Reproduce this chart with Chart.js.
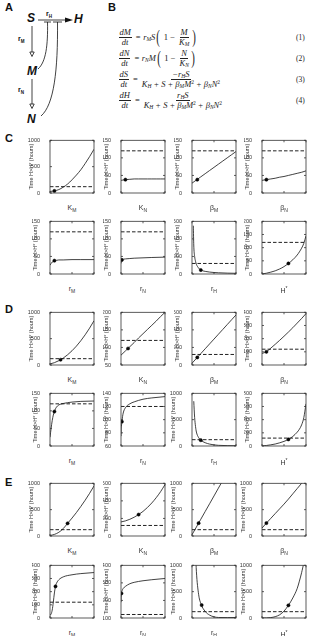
<!DOCTYPE html>
<html lang="en">
  <head>
    <meta charset="UTF-8" />
    <title>Model sensitivity</title>
    <style>
      * { margin: 0; padding: 0; box-sizing: border-box; }
      body { width: 315px; height: 636px; background: #fff; position: relative; overflow: hidden;
        font-family: "Liberation Sans", Arial, sans-serif; color: #222; }
      .pl { position: absolute; font-weight: bold; font-size: 11px; color: #111; }
      canvas { position: absolute; }
      .xl { position: absolute; width: 44px; text-align: center; font-size: 7px; line-height: 9px; color: #333; }
      .xl sub, .xl sup { font-size: 5px; }
      .eq { position: absolute; left: 117px; height: 20px; display: flex; align-items: center; color: #222;
        font-family: "Liberation Serif", "DejaVu Serif", serif; font-size: 8.5px; font-style: italic; white-space: nowrap; }
      .eq sub, .eq sup { font-size: 5.5px; vertical-align: baseline; position: relative; line-height: 0; }
      .eq sub { top: 1.5px; }
      .eq sup { top: -3px; font-style: normal; }
      .frac { display: inline-flex; flex-direction: column; align-items: center; margin: 0 1.5px; line-height: 9px; }
      .frac > span:first-child { border-bottom: 0.6px solid #222; padding: 0 1px; }
      .up { font-style: normal; margin: 0 2.5px; }
      .bp { font-style: normal; font-size: 18px; line-height: 1; display: inline-block; transform: scaleX(0.6); }
      .num { position: absolute; left: 296px; font-family: "Liberation Serif", serif; font-size: 7.5px; color: #222; }
    </style>
  </head>
  <body>
    <div class="pl" style="left:5px;top:1px">A</div>
    <svg style="position:absolute;left:0;top:0" width="110" height="130">
      <g font-family="Liberation Sans, Arial" font-weight="bold" font-style="italic" font-size="12" fill="#111">
        <text x="27" y="22">S</text>
        <text x="74" y="23">H</text>
        <text x="27" y="75">M</text>
        <text x="27" y="123">N</text>
      </g>
      <g font-family="Liberation Sans, Arial" font-weight="bold" font-size="7" fill="#111">
        <text x="46" y="16">r<tspan font-size="4.5" dy="1.5">H</tspan></text>
        <text x="18" y="41">r<tspan font-size="4.5" dy="1.5">M</tspan></text>
        <text x="18" y="92">r<tspan font-size="4.5" dy="1.5">N</tspan></text>
      </g>
      <g stroke="#111" stroke-width="0.8" fill="none">
        <line x1="38" y1="20" x2="68" y2="20" />
        <line x1="44" y1="22" x2="51" y2="22" />
        <line x1="53" y1="22" x2="62" y2="22" />
        <path d="M38,69 C46,62 48,45 47.5,22" />
        <path d="M41,116 C54,105 58,70 57.5,22" />
        <line x1="32" y1="26" x2="32" y2="52" />
        <polygon points="29.8,52 34.2,52 32,56.5" />
        <line x1="32" y1="79" x2="32" y2="104" />
        <polygon points="29.8,104 34.2,104 32,108.5" />
      </g>
      <polygon points="65,17.5 73,20 65,22.5" fill="#111" />
    </svg>

    <div class="pl" style="left:108px;top:1px">B</div>
    <div class="eq" style="top:27px"><span class="frac"><span>dM</span><span>dt</span></span><span class="up">=</span>r<sub>M</sub>S<span class="bp">(</span><span class="up">1 −</span><span class="frac"><span>M</span><span>K<sub>M</sub></span></span><span class="bp">)</span></div>
    <div class="num" style="top:33px">(1)</div>
    <div class="eq" style="top:48px"><span class="frac"><span>dN</span><span>dt</span></span><span class="up">=</span>r<sub>N</sub>M<span class="bp">(</span><span class="up">1 −</span><span class="frac"><span>N</span><span>K<sub>N</sub></span></span><span class="bp">)</span></div>
    <div class="num" style="top:54px">(2)</div>
    <div class="eq" style="top:69px"><span class="frac"><span>dS</span><span>dt</span></span><span class="up">=</span><span class="frac"><span>−r<sub>H</sub>S</span><span>K<sub>H</sub><span class="up">+</span>S<span class="up">+</span>β<sub>M</sub>M<sup>2</sup><span class="up">+</span>β<sub>N</sub>N<sup>2</sup></span></span></div>
    <div class="num" style="top:75px">(3)</div>
    <div class="eq" style="top:90px"><span class="frac"><span>dH</span><span>dt</span></span><span class="up">=</span><span class="frac"><span>r<sub>H</sub>S</span><span>K<sub>H</sub><span class="up">+</span>S<span class="up">+</span>β<sub>M</sub>M<sup>2</sup><span class="up">+</span>β<sub>N</sub>N<sup>2</sup></span></span></div>
    <div class="num" style="top:96px">(4)</div>

    <div class="pl" style="left:5px;top:132px">C</div>
    <div class="pl" style="left:5px;top:303px">D</div>
    <div class="pl" style="left:5px;top:476px">E</div>

    <script src="https://cdn.jsdelivr.net/npm/chart.js"></script>
    <script>
      // x grids of the parameter sweeps
      const K_X = [0, 5, 10, 15, 20, 25, 30, 35, 40, 45, 50];
      const BETA_X = [0, 1, 2, 3, 4, 5, 6, 7, 8, 9, 10];
      const RM_X = [0, 0.0025, 0.005, 0.0075, 0.01, 0.0125, 0.015, 0.02, 0.03, 0.05, 0.07, 0.1];
      const RN_X = [0, 0.005, 0.01, 0.02, 0.05, 0.1, 0.2, 0.3, 0.5, 0.7, 1];
      const RH_X = [0.3, 0.4, 0.6, 0.8, 1, 1.5, 2, 3, 4, 5, 6, 8, 10];
      const HS_X = [0, 10, 20, 30, 40, 50, 60, 70, 80, 85, 90, 95, 100];

      const THRESHOLD = 120;

      // panel C
      const C_KM = [30, 40, 65, 110, 170, 250, 340, 440, 560, 690, 830];
      const C_KN = [36, 38, 39, 40, 40, 40, 40, 40, 40, 40, 40];
      const C_BM = [28, 37, 46, 55, 64, 73, 82, 91, 100, 109, 118];
      const C_BN = [36, 38, 40, 42, 45, 47, 50, 53, 56, 59, 63];
      const C_RM = [25, 30, 34, 36, 38, 38, 39, 40, 40, 41, 41, 41];
      const C_RN = [30, 34, 36, 40, 42, 43, 44, 45, 46, 47, 48];
      const C_RH = [550, 330, 200, 145, 110, 68, 45, 30, 22, 17, 14, 10, 8];
      const C_HS = [0, 3, 7, 12, 19, 28, 40, 54, 72, 84, 98, 116, 145];
      const C_MARK = [[5, 40], [5, 38], [1.2, 38], [1, 38], [0.01, 38], [0.02, 40], [2, 45], [60, 40]];

      // panel D
      const D_KM = [20, 44, 82, 131, 194, 270, 358, 460, 574, 700, 840];
      const D_KN = [78, 90, 102, 114, 127, 139, 151, 163, 175, 188, 200];
      const D_BM = [20, 75, 130, 185, 240, 295, 350, 405, 460, 515, 570];
      const D_BN = [88, 100, 128, 157, 187, 218, 250, 283, 318, 353, 390];
      const D_RM = [25, 50, 72, 88, 98, 106, 111, 117, 121, 125, 127, 128];
      const D_RN = [75, 85, 90, 97, 110, 118, 124, 127, 131, 133, 135];
      const D_RH = [null, 850, 540, 370, 265, 160, 110, 62, 36, 21, 13, 7, 5];
      const D_HS = [0, 8, 18, 30, 48, 70, 100, 145, 210, 255, 320, 430, 640];
      const D_MARK = [[12, 100], [8, 97], [1.2, 86], [1, 100], [0.01, 98], [0.02, 97], [2, 110], [60, 100]];

      // panel E
      const E_KM = [10, 30, 70, 140, 240, 340, 445, 560, 680, 810, 950];
      const E_KN = [160, 172, 190, 214, 244, 280, 324, 376, 436, 505, 585];
      const E_BM = [25, 170, 318, 465, 612, 760, 908, 1055, 1200, 1350, 1500];
      const E_BN = [150, 245, 335, 425, 515, 605, 700, 800, 900, 1000, 1100];
      const E_RM = [20, 30, 60, 120, 190, 240, 265, 290, 312, 328, 337, 345];
      const E_RN = [190, 225, 240, 252, 268, 280, 295, 303, 312, 318, 325];
      const E_RH = [null, null, null, 1250, 880, 450, 275, 125, 55, 22, 10, 8, 10];
      const E_HS = [0, 2, 8, 25, 60, 130, 240, 380, 560, 700, 860, 1050, 1300];
      const E_MARK = [[20, 240], [20, 244], [1.5, 244], [1, 245], [0.0125, 240], [0.01, 240], [2.2, 245], [60, 240]];

      // tick labels
      const YT_150 = [0, 50, 100, 150];
      const YT_200 = [0, 50, 100, 150, 200];
      const YT_400 = [0, 100, 200, 300, 400];
      const YT_600 = [0, 200, 400, 600];
      const YT_800 = [0, 200, 400, 600, 800];
      const YT_1000 = [0, 500, 1000];
      const YT_D2 = [50, 100, 150, 200];
      const YT_D6 = [60, 80, 100, 120, 140];
      const YT_E6 = [100, 200, 300, 400];

      const PARAMS = [
        { x: K_X, xt: [0, 50], lab: "K<sub>M</sub>" },
        { x: K_X, xt: [0, 50], lab: "K<sub>N</sub>" },
        { x: BETA_X, xt: [0, 5, 10], lab: "β<sub>M</sub>" },
        { x: BETA_X, xt: [0, 5, 10], lab: "β<sub>N</sub>" },
        { x: RM_X, xt: [0, 0.05, 0.1], lab: "r<sub>M</sub>" },
        { x: RN_X, xt: [0, 0.5, 1], lab: "r<sub>N</sub>" },
        { x: RH_X, xt: [0, 5, 10], lab: "r<sub>H</sub>" },
        { x: HS_X, xt: [0, 50, 100], lab: "H<sup>*</sup>" },
      ];

      const GROUPS = [
        { rows: [140, 221], ys: [C_KM, C_KN, C_BM, C_BN, C_RM, C_RN, C_RH, C_HS], mark: C_MARK,
          yt: [YT_1000, YT_150, YT_150, YT_150, YT_150, YT_150, YT_600, YT_200] },
        { rows: [312, 393], ys: [D_KM, D_KN, D_BM, D_BN, D_RM, D_RN, D_RH, D_HS], mark: D_MARK,
          yt: [YT_1000, YT_D2, YT_600, YT_400, YT_150, YT_D6, YT_1000, YT_800] },
        { rows: [483, 565], ys: [E_KM, E_KN, E_BM, E_BN, E_RM, E_RN, E_RH, E_HS], mark: E_MARK,
          yt: [YT_1000, YT_600, YT_1000, YT_1000, YT_400, YT_E6, YT_1000, YT_1000] },
      ];

      const COLS = [50, 121, 192, 262];
      const BW = 44, BH = 53;
      const TICK_FONT = { family: "Liberation Sans, Arial", size: 5.5 };

      // box around the plot area plus small inward ticks
      const frame = {
        id: "frame",
        afterDraw(chart) {
          const { ctx, chartArea: a, scales } = chart;
          ctx.save();
          ctx.strokeStyle = "#333";
          ctx.lineWidth = 0.8;
          ctx.strokeRect(a.left, a.top, a.right - a.left, a.bottom - a.top);
          ctx.beginPath();
          scales.x.ticks.forEach((t) => {
            const p = scales.x.getPixelForValue(t.value);
            ctx.moveTo(p, a.bottom); ctx.lineTo(p, a.bottom - 2);
            ctx.moveTo(p, a.top); ctx.lineTo(p, a.top + 2);
          });
          scales.y.ticks.forEach((t) => {
            const p = scales.y.getPixelForValue(t.value);
            ctx.moveTo(a.left, p); ctx.lineTo(a.left + 2, p);
            ctx.moveTo(a.right, p); ctx.lineTo(a.right - 2, p);
          });
          ctx.stroke();
          ctx.restore();
        },
      };

      function makePlot(L, T, par, ys, mark, yt) {
        const yw = String(yt[yt.length - 1]).length >= 4 ? 22 : 18;
        const c = document.createElement("canvas");
        c.width = 92; c.height = 68;
        c.style.left = L - 40 + "px";
        c.style.top = T - 5 + "px";
        document.body.appendChild(c);

        const lab = document.createElement("div");
        lab.className = "xl";
        lab.style.left = L + "px";
        lab.style.top = T + BH + 10 + "px";
        lab.innerHTML = par.lab;
        document.body.appendChild(lab);

        const xt = par.xt;
        const curve = par.x.map((x, i) => ({ x: x, y: ys[i] }));
        new Chart(c, {
          type: "line",
          data: {
            datasets: [
              { data: curve, borderColor: "#111", borderWidth: 0.8, pointRadius: 0, cubicInterpolationMode: "monotone" },
              { data: [{ x: xt[0], y: THRESHOLD }, { x: xt[xt.length - 1], y: THRESHOLD }],
                borderColor: "#222", borderWidth: 1, borderDash: [3.5, 2], pointRadius: 0 },
              { data: [{ x: mark[0], y: mark[1] }], showLine: false, pointRadius: 1.6,
                pointBackgroundColor: "#000", pointBorderColor: "#000", pointBorderWidth: 0.5 },
            ],
          },
          options: {
            responsive: false,
            animation: false,
            events: [],
            layout: { padding: { left: 40 - yw, right: 8, top: 5, bottom: 0 } },
            plugins: { legend: { display: false }, tooltip: { enabled: false } },
            scales: {
              x: {
                type: "linear", min: xt[0], max: xt[xt.length - 1],
                grid: { display: false }, border: { display: false },
                afterBuildTicks: (s) => { s.ticks = xt.map((v) => ({ value: v })); },
                afterFit: (s) => { s.height = 10; },
                ticks: { font: TICK_FONT, color: "#333", padding: 3, maxRotation: 0, autoSkip: false,
                  callback: (v) => String(v) },
              },
              y: {
                type: "linear", min: yt[0], max: yt[yt.length - 1],
                grid: { display: false }, border: { display: false },
                afterBuildTicks: (s) => { s.ticks = yt.map((v) => ({ value: v })); },
                afterFit: (s) => { s.width = yw; },
                ticks: { font: TICK_FONT, color: "#333", padding: 2, autoSkip: false,
                  callback: (v) => String(v) },
                title: { display: true, text: "Time H>H* (hours)", font: TICK_FONT, color: "#333", padding: 0 },
              },
            },
          },
          plugins: [frame],
        });
      }

      GROUPS.forEach((g) => {
        PARAMS.forEach((par, i) => {
          const T = g.rows[i < 4 ? 0 : 1];
          makePlot(COLS[i % 4], T, par, g.ys[i], g.mark[i], g.yt[i]);
        });
      });
    </script>
  </body>
</html>
